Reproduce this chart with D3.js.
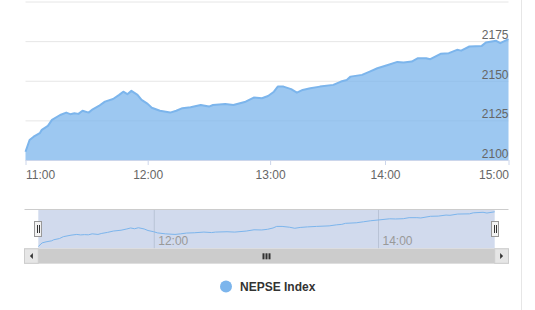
<!DOCTYPE html>
<html>
<head>
<meta charset="utf-8">
<script src="https://cdn.jsdelivr.net/npm/d3@7"></script>
<style>
  body { margin: 0; background: #fff; }
  svg { display: block; font-family: "Liberation Sans", Arial, sans-serif; }
</style>
</head>
<body>
<script>
// NEPSE intraday index
var timeArray = ["11:00","11:02","11:04","11:07","11:08","11:11","11:13","11:17","11:20","11:22",
  "11:24","11:26","11:28","11:31","11:33","11:36","11:39","11:43","11:46","11:48",
  "11:50","11:52","11:55","11:57","12:00","12:02","12:06","12:11","12:14","12:17",
  "12:21","12:26","12:30","12:32","12:38","12:42","12:48","12:52","12:56","12:59",
  "13:02","13:04","13:07","13:11","13:14","13:17","13:21","13:26","13:33","13:37",
  "13:40","13:42","13:48","13:52","13:56","14:01","14:06","14:09","14:13","14:16",
  "14:20","14:22","14:27","14:31","14:35","14:37","14:41","14:47","14:49","14:54",
  "14:56","15:00"];
var valueArray = [2105.2,2112.6,2114.7,2116.9,2119.0,2121.5,2125.3,2128.4,2129.9,2128.9,
  2129.5,2129.1,2131.1,2129.9,2132.0,2134.1,2136.8,2138.5,2141.1,2143.1,
  2141.5,2143.6,2141.1,2137.9,2135.4,2133.0,2131.1,2129.9,2131.1,2132.7,
  2133.3,2134.7,2133.7,2134.7,2135.4,2134.7,2136.8,2139.4,2139.0,2140.4,
  2143.1,2146.3,2146.3,2144.7,2142.5,2144.2,2145.3,2146.3,2147.4,2149.5,
  2150.5,2152.6,2153.7,2155.8,2157.9,2159.8,2161.9,2161.5,2162.1,2164.2,
  2164.2,2163.6,2167.0,2167.4,2169.5,2169.0,2171.6,2172.0,2174.1,2175.2,
  2173.7,2176.2];
var xTickArray = ["11:00","12:00","13:00","14:00","15:00"];
var navTickArray = ["12:00","14:00"];
var yGridArray = [2100,2125,2150,2175,2200];
var yLabelArray = [2100,2125,2150,2175];
var seriesName = "NEPSE Index";

var width = 535, height = 310;
var plot = {left:25.5, right:508.5, top:1.5, bottom:160};
var nav = {left:38.3, right:494.7, top:209.3, bottom:248.8};
var color = "#7cb5ec";

var parseTime = d3.timeParse("%H:%M");
var data = timeArray.map(function(t, i){ return {t: parseTime(t), v: valueArray[i]}; });
var xTicks = xTickArray.map(parseTime);

// ordinal-ish axis: hours are not equally wide in the original
var x = d3.scaleTime()
    .domain(xTicks)
    .range([25.5, 147.7, 270.1, 385, 508.5]);
var y = d3.scaleLinear().domain([2100, 2200]).range([plot.bottom, plot.top]);

var svg = d3.select("body").append("svg").attr("width", width).attr("height", height);

// right border
svg.append("line").attr("x1", 521.5).attr("x2", 521.5).attr("y1", 0).attr("y2", height)
    .attr("stroke", "#e6e6e6");

// grid
var grid = svg.append("g").attr("transform", "translate(" + plot.left + ",0)")
    .call(d3.axisLeft(y).tickValues(yGridArray).tickSize(-(plot.right - plot.left)).tickFormat(""));
grid.select(".domain").remove();
grid.selectAll("line").attr("stroke", "#e6e6e6");

// area + line
var area = d3.area().x(function(d){ return x(d.t); }).y0(plot.bottom).y1(function(d){ return y(d.v); });
var line = d3.line().x(function(d){ return x(d.t); }).y(function(d){ return y(d.v); });
svg.append("path").datum(data).attr("d", area).attr("fill", color).attr("fill-opacity", 0.75);
svg.append("path").datum(data).attr("d", line).attr("fill", "none").attr("stroke", color)
    .attr("stroke-width", 2).attr("stroke-linejoin", "round");

// y labels, right side, sitting on the grid lines
var yAxis = svg.append("g").attr("transform", "translate(" + plot.right + ",0)")
    .call(d3.axisLeft(y).tickValues(yLabelArray).tickSize(0).tickPadding(0).tickFormat(d3.format("d")));
yAxis.select(".domain").remove();
yAxis.selectAll("text").attr("dy", "-2.5").attr("fill", "#666").attr("font-size", "12px")
    .attr("font-family", "Liberation Sans, Arial, sans-serif");

// x axis
var xAxis = svg.append("g").attr("transform", "translate(0," + plot.bottom + ")")
    .call(d3.axisBottom(x).tickValues(xTicks).tickSize(5).tickPadding(5.5).tickFormat(d3.timeFormat("%H:%M")));
xAxis.select(".domain").attr("stroke", "#ccd6eb").attr("d", "M" + plot.left + ",0.5H" + plot.right);
xAxis.selectAll("line").attr("stroke", "#ccd6eb");
xAxis.selectAll("text").attr("fill", "#666").attr("font-size", "12px")
    .attr("font-family", "Liberation Sans, Arial, sans-serif")
    .attr("text-anchor", function(d, i){ return i === 0 ? "start" : (i === xTicks.length - 1 ? "end" : "middle"); });

// ---- navigator ----
var navX = d3.scaleTime()
    .domain(xTicks)
    .range(xTicks.map(function(t){ return nav.left + (x(t) - plot.left) / (plot.right - plot.left) * (nav.right - nav.left); }));
var navY = d3.scaleLinear().domain(d3.extent(valueArray)).range([246.5, 211.8]);

svg.append("rect").attr("x", nav.left).attr("y", nav.top).attr("width", nav.right - nav.left)
    .attr("height", nav.bottom - nav.top).attr("fill", "rgba(102,133,194,0.3)");

var navGrid = svg.append("g").attr("transform", "translate(0," + nav.bottom + ")")
    .call(d3.axisTop(navX).tickValues(navTickArray.map(parseTime)).tickSize(nav.bottom - nav.top).tickFormat(""));
navGrid.select(".domain").remove();
navGrid.selectAll("line").attr("stroke", "#b9c3d6");

svg.append("g").selectAll("text").data(navTickArray).join("text")
    .attr("x", function(d){ return navX(parseTime(d)) + 4.5; })
    .attr("y", 245)
    .attr("fill", "#999").attr("font-size", "12px")
    .text(function(d){ return d; });

var navLine = d3.line().x(function(d){ return navX(d.t); }).y(function(d){ return navY(d.v); });
svg.append("path").datum(data).attr("d", navLine).attr("fill", "none").attr("stroke", color).attr("stroke-width", 1);

// outline
svg.append("path").attr("d", "M24.5,209.5H508.5").attr("stroke", "#cccccc").attr("fill", "none");

// scrollbar
var sb = {top:248.8, h:14.5};
svg.append("rect").attr("x", 24.5).attr("y", sb.top).attr("width", 484).attr("height", sb.h)
    .attr("fill", "#f2f2f2").attr("stroke", "#e0e0e0");
svg.append("rect").attr("x", nav.left).attr("y", sb.top).attr("width", nav.right - nav.left).attr("height", sb.h)
    .attr("fill", "#cccccc");
[[24.5, nav.left], [nav.right, 508.5]].forEach(function(b, i){
  svg.append("rect").attr("x", b[0]).attr("y", sb.top).attr("width", b[1] - b[0]).attr("height", sb.h)
      .attr("fill", "#e6e6e6").attr("stroke", "#cccccc");
  var cx = (b[0] + b[1]) / 2, cy = sb.top + sb.h / 2;
  var pts = i === 0 ? [[cx + 1.5, cy - 3], [cx + 1.5, cy + 3], [cx - 1.5, cy]] : [[cx - 1.5, cy - 3], [cx - 1.5, cy + 3], [cx + 1.5, cy]];
  svg.append("path").attr("d", "M" + pts.join("L") + "Z").attr("fill", "#333");
});
var gx = (nav.left + nav.right) / 2;
[-3, 0, 3].forEach(function(o){
  svg.append("rect").attr("x", gx + o - 1).attr("y", sb.top + 4.5).attr("width", 2).attr("height", 6).attr("fill", "#333");
});

// handles
[nav.left, nav.right].forEach(function(hx){
  svg.append("rect").attr("x", Math.round(hx) - 3.5).attr("y", 221.5).attr("width", 7).attr("height", 15)
      .attr("fill", "#f2f2f2").attr("stroke", "#999");
  [-1, 1].forEach(function(o){
    svg.append("line").attr("x1", Math.round(hx) + o + 0.5).attr("x2", Math.round(hx) + o + 0.5)
        .attr("y1", 225).attr("y2", 233).attr("stroke", "#333");
  });
});

// legend
svg.append("circle").attr("cx", 226).attr("cy", 286.5).attr("r", 6).attr("fill", color);
svg.append("text").attr("x", 240).attr("y", 291).attr("font-size", "12px").attr("font-weight", "bold")
    .attr("fill", "#333").text(seriesName);
</script>
</body>
</html>
